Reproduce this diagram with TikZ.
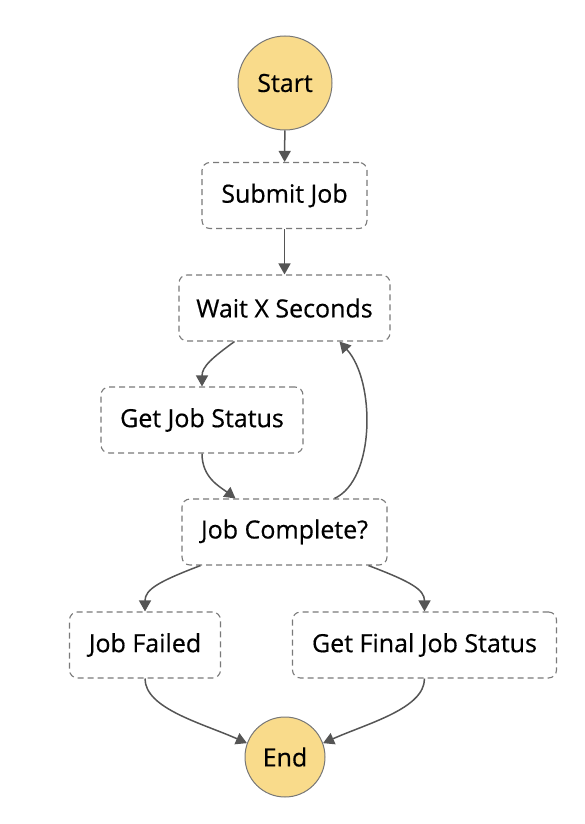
\documentclass[tikz,border=0pt]{standalone}
\usepackage{fontspec}
\setmainfont{Open Sans}
\newfontfamily\labelfont[FakeBold=0.5]{Open Sans}
\usetikzlibrary{arrows.meta,positioning}
\definecolor{termfill}{HTML}{F9DB8B}
\definecolor{linegray}{HTML}{555555}
\definecolor{boxgray}{HTML}{7A7A7A}
\tikzset{
  >={Triangle[length=11pt,width=12pt]},
  task/.style={draw=boxgray, dash pattern=on 6pt off 4pt, line width=1.1pt,
    rounded corners=8pt, minimum height=66pt, inner sep=0pt,
    font=\labelfont\fontsize{25}{30}\selectfont},
  terminal/.style={circle, draw=linegray!80, fill=termfill, line width=1pt,
    inner sep=0pt, font=\labelfont\fontsize{25}{30}\selectfont},
  flow/.style={->, draw=linegray, line width=1.5pt},
}

\begin{document}
\begin{tikzpicture}[x=1pt,y=-1pt]
\useasboundingbox (0,0) rectangle (584,824);

\node[terminal,minimum size=94pt] (start) at (285,83) {Start};
\node[task,minimum width=165pt] (submit) at (284.5,195.5) {Submit Job};
\node[task,minimum width=211pt] (wait) at (284.5,308) {Wait X Seconds};
\node[task,minimum width=202pt] (getstatus) at (202,420) {Get Job Status};
\node[task,minimum width=205pt] (complete) at (284.5,532) {Job Complete?};
\node[task,minimum width=151pt] (failed) at (145,645) {Job Failed};
\node[task,minimum width=264pt] (final) at (424.5,645) {Get Final Job Status};
\node[terminal,minimum size=80pt] (end) at (285,757) {End};

\draw[flow] (start) -- (submit);
\draw[flow] (submit) -- (wait);
\draw[flow] ([xshift=-50pt]wait.south) .. controls +(-22,16) and +(0,-20) .. (getstatus.north);
\draw[flow] (getstatus.south) .. controls +(0,24) and +(-16,-12) .. ([xshift=-49pt]complete.north);
\draw[flow] ([xshift=50pt]complete.north) .. controls +(41,-19) and +(36,39) .. ([xshift=55pt]wait.south);
\draw[flow] ([xshift=-84pt]complete.south) .. controls +(-42,16) and +(0,-22) .. (failed.north);
\draw[flow] ([xshift=84pt]complete.south) .. controls +(42,16) and +(0,-22) .. (final.north);
\draw[flow] (failed.south) .. controls +(0,30) and +(-45,-20) .. (end.160);
\draw[flow] (final.south) .. controls +(0,30) and +(45,-20) .. (end.20);
\end{tikzpicture}
\end{document}
